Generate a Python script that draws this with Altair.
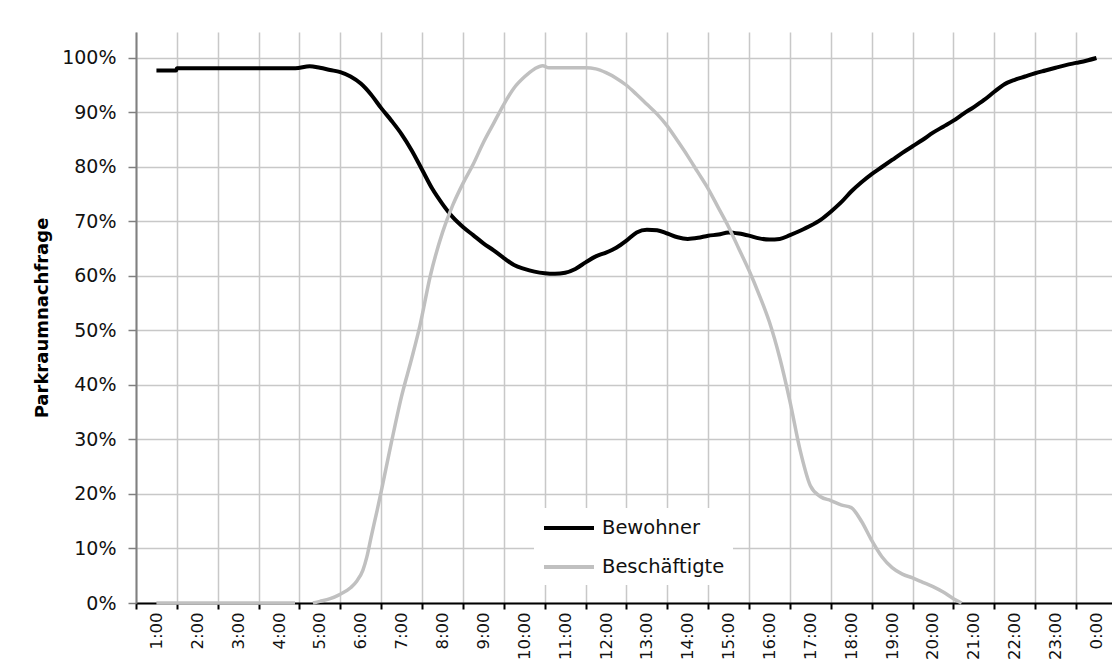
import altair as alt
import pandas as pd

# ---------------- data ----------------
series_names = ["Bewohner", "Beschäftigte"]
series_colors = ["#000000", "#c0c0c0"]

# time of day in hours (1 = 1:00 ... 24 = 0:00), demand in percent
bew_hours = [1.0, 1.48, 1.5, 2.0, 3.0, 4.0, 4.4, 4.75, 5.0, 5.25, 5.5, 5.75,
             6.0, 6.25, 6.5, 6.75, 7.0, 7.25, 7.5, 7.75, 8.0, 8.25, 8.5, 8.75,
             9.0, 9.25, 9.5, 9.75, 10.0, 10.25, 10.5, 10.75, 11.0, 11.25, 11.5, 11.75,
             12.0, 12.25, 12.5, 12.75, 13.0, 13.25, 13.5, 13.75, 14.0, 14.25, 14.5, 14.75,
             15.0, 15.25, 15.5, 15.75, 16.0, 16.25, 16.5, 16.75, 17.0, 17.25, 17.5, 17.75,
             18.0, 18.25, 18.5, 18.75, 19.0, 19.25, 19.5, 19.75, 20.0, 20.25, 20.5, 20.75,
             21.0, 21.25, 21.5, 21.75, 22.0, 22.25, 22.5, 22.75, 23.0, 23.25, 23.5, 23.75, 24.0]
bew_values = [97.7, 97.7, 98.1, 98.1, 98.1, 98.1, 98.1, 98.5, 98.2, 97.8, 97.4, 96.6,
              95.3, 93.3, 90.8, 88.5, 86.0, 83.0, 79.5, 76.0, 73.2, 70.8, 69.0, 67.5,
              66.0, 64.7, 63.3, 62.0, 61.3, 60.8, 60.5, 60.4, 60.6, 61.3, 62.5, 63.6,
              64.3, 65.2, 66.5, 68.0, 68.5, 68.4, 67.8, 67.1, 66.8, 67.0, 67.4, 67.6,
              68.0, 67.8, 67.4, 66.9, 66.7, 66.8, 67.5, 68.3, 69.2, 70.3, 71.8, 73.5,
              75.5, 77.2, 78.7, 80.0, 81.3, 82.6, 83.8, 85.0, 86.3, 87.4, 88.5, 89.8,
              91.0, 92.3, 93.8, 95.2, 96.0, 96.6, 97.2, 97.7, 98.2, 98.7, 99.1, 99.5, 100.0]

besch_hours = [1.0, 4.39,
               4.83, 5.0, 5.25, 5.47, 5.75, 5.9, 6.05, 6.15, 6.25, 6.4, 6.5, 6.75,
               7.0, 7.25, 7.45, 7.7, 8.0, 8.25, 8.5, 8.75, 9.0, 9.25, 9.5, 9.75,
               10.0, 10.25, 10.45, 10.6, 11.0, 11.5, 11.75, 12.0, 12.25, 12.5, 12.75,
               13.0, 13.25, 13.5, 13.75, 14.0, 14.25, 14.5, 14.75, 15.0, 15.25, 15.5, 15.75,
               16.0, 16.25, 16.5, 16.75, 17.0, 17.25, 17.5, 17.75, 18.0, 18.25, 18.5, 18.75,
               19.0, 19.25, 19.5, 19.75, 20.0, 20.25, 20.5, 20.7]
besch_values = [0.0, 0.0,
                0.0, 0.3, 0.8, 1.5, 2.8, 4.0, 6.0, 8.5, 12.0, 17.0, 20.5, 29.5,
                38.0, 45.0, 51.0, 60.0, 68.0, 73.0, 77.0, 80.5, 84.5, 88.0, 91.5, 94.5,
                96.5, 98.0, 98.6, 98.2, 98.2, 98.2, 98.0, 97.3, 96.3, 95.0, 93.3,
                91.5, 89.7, 87.5, 84.8, 82.0, 79.0, 76.0, 72.5, 69.0, 65.0, 61.0, 56.5,
                51.5, 45.0, 37.0, 28.0, 21.5, 19.5, 18.8, 18.0, 17.5, 15.0, 11.5, 8.5,
                6.5, 5.3, 4.6, 3.8, 3.0, 2.0, 0.8, 0.0]
besch_segments = [0, 0] + [1] * (len(besch_hours) - 2)

ytick_values = [0.0, 0.1, 0.2, 0.3, 0.4, 0.5, 0.6, 0.7, 0.8, 0.9, 1.0]

# ---------------- tables ----------------
bew = pd.DataFrame({"t": bew_hours, "v": [v / 100 for v in bew_values],
                    "s": series_names[0], "seg": 0})
besch = pd.DataFrame({"t": besch_hours, "v": [v / 100 for v in besch_values],
                      "s": series_names[1], "seg": besch_segments})

# ---------------- layout ----------------
W = 976
H = 571
x_min, x_max = 0.5, 24.38
y_max = 1.0477
band_px = W / (x_max - x_min)
FONT = "DejaVu Sans"

x_scale = alt.Scale(domain=[x_min, x_max], nice=False, zero=False)
y_scale = alt.Scale(domain=[0, y_max], nice=False, zero=True)

x_axis = alt.Axis(
    values=[h + 0.5 for h in range(24)],
    labelExpr="((datum.value + 0.5) % 24) + ':00'",
    labelAngle=-90, labelOffset=band_px / 2, labelPadding=3,
    labelFontSize=16.5, labelFont=FONT, labelColor="#111111",
    labelFlush=False, labelOverlap=False,
    tickSize=6, tickWidth=2, tickColor="#000000",
    domainColor="#000000", domainWidth=2,
    grid=True, gridColor="#c8c8c8", gridWidth=1.5,
    title=None,
)
y_axis = alt.Axis(
    values=ytick_values, format=".0%",
    labelFontSize=19, labelFont=FONT, labelColor="#111111", labelPadding=12,
    tickSize=8, tickWidth=1.5, tickColor="#808080",
    domainColor="#808080", domainWidth=2,
    grid=True, gridColor="#c8c8c8", gridWidth=1.5,
    title="Parkraumnachfrage", titleFont=FONT, titleFontSize=18,
    titleFontWeight="bold", titleColor="#000000", titlePadding=10,
)

color = alt.Color(
    "s:N",
    scale=alt.Scale(domain=series_names, range=series_colors),
    legend=alt.Legend(
        title=None, orient="none", legendX=398, legendY=476,
        fillColor="white", padding=8,
        symbolType="M-1,0H4", symbolSize=400, symbolStrokeWidth=4,
        labelFont=FONT, labelFontSize=19.5, labelColor="#111111",
        labelOffset=36, rowPadding=17,
    ),
)

bew_line = alt.Chart(bew).mark_line(strokeWidth=4, interpolate="monotone").encode(
    x=alt.X("t:Q", scale=x_scale, axis=x_axis),
    y=alt.Y("v:Q", scale=y_scale, axis=y_axis),
    color=color,
    detail="seg:N",
)
besch_line = alt.Chart(besch).mark_line(strokeWidth=3.5, interpolate="monotone").encode(
    x=alt.X("t:Q", scale=x_scale),
    y=alt.Y("v:Q", scale=y_scale),
    color=color,
    detail="seg:N",
)

chart = (
    alt.layer(bew_line, besch_line)
    .properties(
        width=W, height=H,
        autosize=alt.AutoSizeParams(type="none"),
        padding={"left": 136, "top": 32, "right": 0, "bottom": 56},
        background="white",
    )
    .configure_view(stroke=None)
)

chart.save("out.html", embed_options={"renderer": "svg", "actions": False})
